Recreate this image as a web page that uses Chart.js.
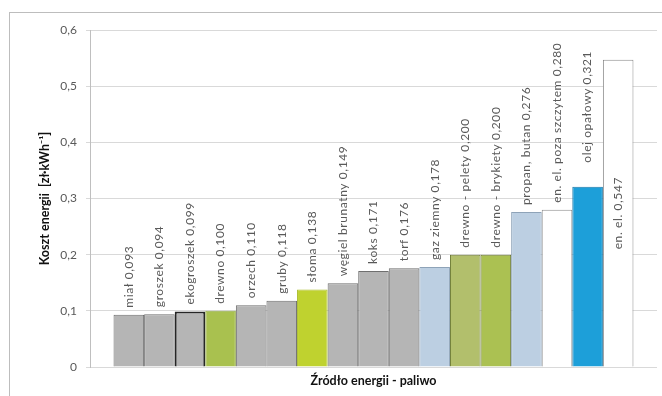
<!DOCTYPE html>
<html>
<head>
<meta charset="utf-8">
<script src="https://cdn.jsdelivr.net/npm/chart.js@4/dist/chart.umd.min.js"></script>
<style>
  html, body { margin: 0; padding: 0; background: #ffffff; }
  #wrap { width: 662px; height: 396px; position: relative; }
</style>
</head>
<body>
<div id="wrap"><canvas id="chart" width="662" height="396"></canvas></div>
<script>
// Fuel / energy sources and their unit energy cost [zł·kWh⁻¹]
const fuels = [
  'miał', 'groszek', 'ekogroszek', 'drewno', 'orzech', 'gruby', 'słoma',
  'węgiel brunatny', 'koks', 'torf', 'gaz ziemny', 'drewno - pelety',
  'drewno - brykiety', 'propan, butan', 'en. el. poza szczytem',
  'olej opałowy', 'en. el.'
];
const costs = [
  0.093, 0.094, 0.099, 0.100, 0.110, 0.118, 0.138,
  0.149, 0.171, 0.176, 0.178, 0.200,
  0.200, 0.276, 0.280,
  0.321, 0.547
];
const yTicks = [0, 0.1, 0.2, 0.3, 0.4, 0.5, 0.6];

// Bar styling per source
const fills = [
  '#b5b5b5', '#b5b5b5', '#b5b5b5', '#a9c14f', '#b5b5b5', '#b5b5b5', '#bfd22f',
  '#b5b5b5', '#b5b5b5', '#b5b5b5', '#bccfe2', '#b2bf6c',
  '#abc152', '#bccfe2', '#ffffff', '#1d9fd9', '#ffffff'
];
const edges = [
  '#6f6f6f', '#6f6f6f', '#262626', '#93a948', '#6f6f6f', '#6f6f6f', '#a9bc2a',
  '#6f6f6f', '#6f6f6f', '#6f6f6f', '#8ea3b8', '#6d7a33',
  '#6d7a33', '#8ea3b8', '#8c8c8c', '#1a78a8', '#8c8c8c'
];
const edgeWidths = [1, 1, 2, 1, 1, 1, 1, 1, 1, 1, 1, 1, 1, 1, 1, 1, 1];

const fmt = v => v.toFixed(3).replace('.', ',');

// Outer frame around the whole chart
const framePlugin = {
  id: 'frame',
  beforeDraw(chart) {
    const ctx = chart.ctx;
    ctx.save();
    ctx.fillStyle = '#ffffff';
    ctx.fillRect(0, 0, chart.width, chart.height);
    ctx.strokeStyle = '#bdbdbd';
    ctx.lineWidth = 1;
    ctx.strokeRect(9.5, 12.5, 700, 420);
    ctx.restore();
  }
};

// Vertical "name value" notes over (or inside) each bar
const notesPlugin = {
  id: 'barNotes',
  afterDatasetsDraw(chart, args, opts) {
    const ctx = chart.ctx;
    ctx.save();
    ctx.font = opts.font;
    ctx.fillStyle = opts.color;
    ctx.textBaseline = 'middle';
    if ('letterSpacing' in ctx) ctx.letterSpacing = opts.spacing;
    chart.data.datasets.forEach((ds, i) => {
      const bar = chart.getDatasetMeta(i).data[0];
      if (!bar) return;
      const text = fuels[i] + ' ' + fmt(costs[i]);
      ctx.save();
      if (opts.centered.includes(i)) {
        ctx.translate(bar.x, (bar.y + bar.base) / 2);
        ctx.rotate(-Math.PI / 2);
        ctx.textAlign = 'center';
        ctx.fillText(text, 0, 0);
      } else {
        const gap = opts.gap + (opts.extraGap[i] || 0);
        ctx.translate(bar.x, bar.y - gap);
        ctx.rotate(-Math.PI / 2);
        ctx.textAlign = 'left';
        ctx.fillText(text, 0, 0);
      }
      ctx.restore();
    });
    ctx.restore();
  }
};

new Chart(document.getElementById('chart'), {
  type: 'bar',
  data: {
    labels: [''],
    datasets: fuels.map((name, i) => ({
      label: name,
      data: [costs[i]],
      backgroundColor: fills[i],
      borderColor: edges[i],
      borderWidth: edgeWidths[i],
      borderSkipped: 'bottom',
      categoryPercentage: 0.917,
      barPercentage: 1
    }))
  },
  options: {
    responsive: false,
    devicePixelRatio: 1,
    animation: false,
    layout: { padding: { top: 30, right: 5, left: 0, bottom: 0 } },
    plugins: {
      legend: { display: false },
      tooltip: { enabled: false },
      barNotes: {
        font: '12px Lato',
        spacing: '0.6px',
        color: '#595959',
        gap: 7,
        extraGap: { 15: 17 },
        centered: [16]
      }
    },
    scales: {
      x: {
        grid: { display: false },
        border: { display: false },
        ticks: { display: false },
        title: {
          display: true,
          text: 'Źródło energii - paliwo',
          color: '#111111',
          font: { family: 'Lato', size: 12.5, weight: 'bold' },
          padding: { top: 0, bottom: 8 }
        },
        afterFit(scale) { scale.height = 29; }
      },
      y: {
        min: 0,
        max: 0.6,
        afterBuildTicks(scale) {
          scale.ticks = yTicks.map(v => ({ value: v }));
        },
        ticks: {
          color: '#595959',
          font: { family: 'Lato', size: 12 },
          padding: 9,
          callback: v => v === 0 ? '0' : v.toFixed(1).replace('.', ',')
        },
        grid: { color: '#d9d9d9', tickLength: 4, lineWidth: 1 },
        border: { color: '#bfbfbf' },
        title: {
          display: true,
          text: 'Koszt energii  [zł·kWh⁻¹]',
          color: '#111111',
          font: { family: 'Lato', size: 12.5, weight: 'bold' },
          padding: { top: 37, bottom: 0 }
        },
        afterFit(scale) { scale.width = 90; }
      }
    }
  },
  plugins: [framePlugin, notesPlugin]
});
</script>
</body>
</html>
